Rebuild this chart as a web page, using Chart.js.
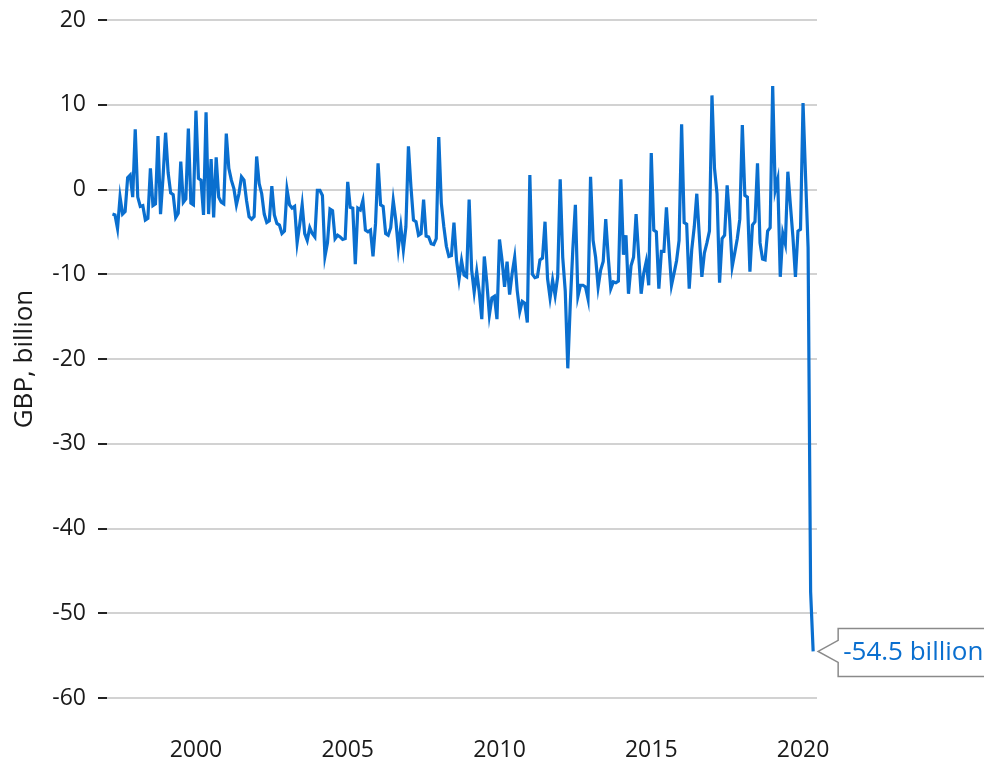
<!DOCTYPE html>
<html>
<head>
<meta charset="utf-8">
<script src="https://cdn.jsdelivr.net/npm/chart.js@4.4.1/dist/chart.umd.min.js"></script>
<style>
  html, body { margin: 0; padding: 0; background: #fff; }
</style>
</head>
<body>
<canvas id="borrowing" width="984" height="768"></canvas>
<script>
// monthly values, GBP billion, first month April 1997
const firstYear = 1997;
const firstMonth = 3;
const v1997 = [-2.9, -3.0, -4.6, -0.9, -2.9, -2.6, 1.4, 1.7, -0.9];
const v1998 = [7.1, -0.9, -2.0, -1.9, -3.6, -3.4, 2.5, -1.9, -1.7, 6.3, -2.9, 1.5];
const v1999 = [6.7, 2.0, -0.4, -0.6, -3.3, -2.8, 3.3, -1.5, -1.1, 7.2, -1.6, -1.8];
const v2000 = [9.3, 1.3, 1.1, -3.0, 9.1, -2.9, 3.6, -3.3, 3.8, -0.9, -1.5, -1.7];
const v2001 = [6.6, 2.5, 1.1, 0.1, -1.8, -0.5, 1.5, 1.1, -1.3, -3.2, -3.5, -3.2];
const v2002 = [3.9, 0.7, -0.5, -2.9, -3.9, -3.7, 0.4, -3.0, -4.0, -4.2, -5.2, -4.9];
const v2003 = [0.0, -1.8, -2.2, -2.0, -6.3, -4.2, -1.8, -5.2, -6.0, -4.5, -5.2, -5.6];
const v2004 = [-0.1, -0.1, -0.7, -7.9, -6.3, -2.3, -2.5, -5.8, -5.4, -5.6, -5.9, -5.8];
const v2005 = [0.9, -2.1, -2.2, -8.8, -2.2, -2.4, -1.3, -4.8, -5.0, -4.8, -7.9, -4.0];
const v2006 = [3.1, -1.8, -2.0, -5.2, -5.4, -4.5, -1.3, -3.6, -6.9, -4.4, -7.1, -4.4];
const v2007 = [5.1, 0.3, -3.6, -3.8, -5.4, -5.2, -1.2, -5.5, -5.6, -6.4, -6.5, -5.8];
const v2008 = [6.2, -1.6, -4.4, -6.7, -7.9, -7.8, -3.9, -8.3, -10.6, -8.4, -10.1, -10.3];
const v2009 = [-1.2, -9.5, -12.1, -9.7, -12.1, -15.3, -7.9, -11.0, -14.8, -12.8, -12.6, -15.3];
const v2010 = [-5.9, -8.3, -11.5, -8.5, -12.4, -9.9, -8.0, -11.9, -14.4, -13.2, -13.4, -15.7];
const v2011 = [1.7, -10.0, -10.4, -10.3, -8.3, -8.1, -3.8, -10.5, -12.8, -10.7, -12.5, -10.3];
const v2012 = [1.2, -8.0, -12.0, -21.1, -13.4, -7.0, -1.8, -12.6, -11.3, -11.3, -11.5, -12.9];
const v2013 = [1.5, -6.0, -8.0, -11.5, -9.5, -8.5, -3.5, -8.0, -11.7, -10.9, -11.0, -10.8];
const v2014 = [1.2, -7.7, -5.4, -12.3, -9.0, -8.0, -2.9, -7.7, -12.3, -9.9, -8.5, -11.3];
const v2015 = [4.3, -4.8, -5.0, -11.7, -7.3, -7.3, -2.1, -6.9, -11.3, -9.9, -8.4, -6.0];
const v2016 = [7.7, -3.9, -4.1, -11.7, -7.1, -4.4, -0.5, -5.5, -10.3, -7.5, -6.3, -4.9];
const v2017 = [11.1, 2.5, -0.5, -11.0, -5.8, -5.4, 0.5, -3.6, -9.1, -7.5, -5.8, -3.5];
const v2018 = [7.6, -0.7, -0.9, -9.7, -4.2, -3.8, 3.1, -6.3, -8.2, -8.3, -4.9, -4.5];
const v2019 = [12.2, -0.1, 1.2, -10.3, -5.2, -6.4, 2.1, -1.8, -5.6, -10.3, -4.9, -4.7];
const v2020 = [10.2, 1.5, -6.9, -47.5, -54.5];

const yearTicks = [2000, 2005, 2010, 2015, 2020];
const yMin = -60, yMax = 20, yStep = 10;
const axisTitle = 'GBP, billion';

const lineColor = '#0a6fcf';
const textColor = '#1a1a1a';
const fontFamily = '"Open Sans", "Noto Sans", sans-serif';

const values = [].concat(v1997, v1998, v1999, v2000, v2001, v2002, v2003, v2004, v2005,
    v2006, v2007, v2008, v2009, v2010, v2011, v2012, v2013, v2014, v2015, v2016,
    v2017, v2018, v2019, v2020);

// one point per month, x in decimal years
const points = values.map((v, i) => ({ x: firstYear + (firstMonth + i) / 12, y: v }));

// callout box for the last value
const calloutPlugin = {
    id: 'callout',
    afterDatasetsDraw(chart) {
        const pts = chart.getDatasetMeta(0).data;
        const p = pts[pts.length - 1];
        const last = values[values.length - 1];
        const ctx = chart.ctx;
        const bx = p.x + 25;
        const top = p.y - 23;
        const bot = p.y + 25;
        ctx.save();
        ctx.beginPath();
        ctx.moveTo(p.x + 5, p.y);
        ctx.lineTo(bx, p.y - 11);
        ctx.lineTo(bx, top);
        ctx.lineTo(chart.width + 10, top);
        ctx.lineTo(chart.width + 10, bot);
        ctx.lineTo(bx, bot);
        ctx.lineTo(bx, p.y + 11);
        ctx.closePath();
        ctx.fillStyle = '#fff';
        ctx.fill();
        ctx.strokeStyle = '#8a8a8a';
        ctx.lineWidth = 1.5;
        ctx.stroke();
        ctx.fillStyle = lineColor;
        ctx.font = '26px ' + fontFamily;
        ctx.textBaseline = 'middle';
        ctx.fillText(last + ' billion', bx + 5, p.y + 1);
        ctx.restore();
    }
};

const ctx = document.getElementById('borrowing').getContext('2d');
new Chart(ctx, {
    type: 'line',
    data: {
        datasets: [{
            data: points,
            borderColor: lineColor,
            borderWidth: 3.2,
            pointRadius: 0,
            tension: 0,
            fill: false
        }]
    },
    options: {
        responsive: false,
        animation: false,
        layout: { padding: { left: 0, right: 167, top: 20, bottom: 0 } },
        plugins: {
            legend: { display: false },
            tooltip: { enabled: false }
        },
        scales: {
            x: {
                type: 'linear',
                min: 1997.07,
                max: 2020.46,
                grid: { display: false, drawTicks: false },
                border: { display: false },
                afterBuildTicks: scale => {
                    scale.ticks = yearTicks.map(v => ({ value: v }));
                },
                afterFit: scale => { scale.height = 70; },
                ticks: {
                    padding: 39,
                    color: textColor,
                    font: { family: fontFamily, size: 23 },
                    maxRotation: 0,
                    callback: v => String(v)
                }
            },
            y: {
                min: yMin,
                max: yMax,
                grid: {
                    color: '#d2d2d2',
                    lineWidth: 2,
                    tickColor: '#222',
                    tickWidth: 2,
                    tickLength: 9
                },
                border: { display: false },
                afterFit: scale => {
                    scale.width = 107;
                    scale.paddingTop = 0;
                    scale.paddingBottom = 0;
                },
                title: {
                    display: true,
                    text: axisTitle,
                    color: textColor,
                    font: { family: fontFamily, size: 26 },
                    padding: { top: 9, bottom: 0 }
                },
                ticks: {
                    stepSize: yStep,
                    padding: 12,
                    color: textColor,
                    font: { family: fontFamily, size: 23 }
                }
            }
        }
    },
    plugins: [calloutPlugin]
});
</script>
</body>
</html>
